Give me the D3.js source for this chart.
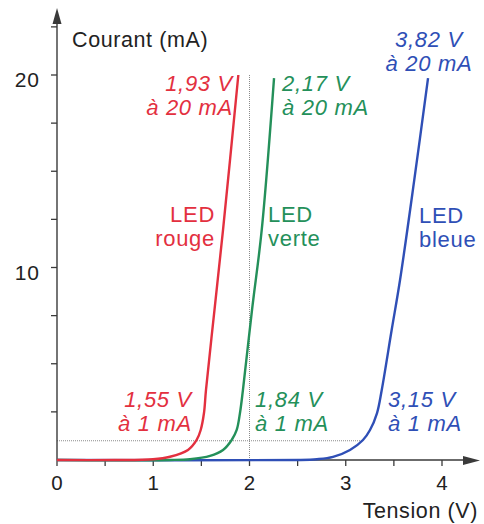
<!DOCTYPE html>
<html>
<head>
<meta charset="utf-8">
<script src="https://cdn.jsdelivr.net/npm/d3@7"></script>
<style>
  html, body { margin: 0; padding: 0; background: #fff; }
  svg { display: block; font-family: "Liberation Sans", Arial, sans-serif; }
</style>
</head>
<body>
<div id="canvas"></div>
<script>
// data (tension in V, current in mA)
var redV   = [0, 0.6, 0.997, 1.174, 1.361, 1.451, 1.493, 1.527, 1.548, 1.636, 1.725, 1.884];
var redI   = [0, 0, 0.04, 0.17, 0.52, 1.04, 1.56, 2.44, 3.64, 7.79, 11.95, 20];
var greenV = [0, 1.17, 1.382, 1.59, 1.725, 1.815, 1.867, 1.901, 1.932, 2.026, 2.127, 2.255];
var greenI = [0, 0, 0.04, 0.21, 0.52, 1.04, 1.56, 2.44, 3.64, 7.79, 11.95, 19.84];
var blueV  = [0, 2.52, 2.70, 2.868, 3.044, 3.179, 3.252, 3.325, 3.374, 3.477, 3.564, 3.712, 3.855];
var blueI  = [0, 0, 0.04, 0.16, 0.52, 1.04, 1.56, 2.44, 3.64, 6.75, 9.35, 14.55, 19.84];

var xTicks = [0, 0.5, 1, 1.5, 2, 2.5, 3, 3.5, 4];
var xLabels = [0, 1, 2, 3, 4];
var yTicks = [2.5, 5, 7.5, 10, 12.5, 15, 17.5, 20, 22.5];
var yLabels = [10, 20];

var colors = { rouge: "#e3303f", verte: "#24905a", bleue: "#2f4fb6" };

var width = 484, height = 524;

var x = d3.scaleLinear().domain([0, 4]).range([57, 442]);
var y = d3.scaleLinear().domain([0, 20]).range([460, 75]);

var svg = d3.select("#canvas").append("svg")
    .attr("width", width)
    .attr("height", height);

function zip(vs, is) {
  return vs.map(function (v, i) { return { v: v, i: is[i] }; });
}

// dotted guide lines
svg.append("line")
    .attr("x1", x(0)).attr("x2", x(3.15))
    .attr("y1", y(1)).attr("y2", y(1))
    .attr("stroke", "#8a8a8a").attr("stroke-width", 1)
    .attr("stroke-dasharray", "1,1");
svg.append("line")
    .attr("x1", x(2)).attr("x2", x(2))
    .attr("y1", y(20)).attr("y2", y(0))
    .attr("stroke", "#8a8a8a").attr("stroke-width", 1)
    .attr("stroke-dasharray", "1,1");

// axes
var axisColor = "#3a3a3a";
svg.append("line")
    .attr("x1", x(0)).attr("x2", 466)
    .attr("y1", y(0)).attr("y2", y(0))
    .attr("stroke", axisColor).attr("stroke-width", 1.4);
svg.append("line")
    .attr("x1", x(0)).attr("x2", x(0))
    .attr("y1", y(0)).attr("y2", 20)
    .attr("stroke", axisColor).attr("stroke-width", 1.4);
svg.append("path")
    .attr("d", "M480,460.5 L463,456 L463,465 Z")
    .attr("fill", axisColor);
svg.append("path")
    .attr("d", "M57,8 L52.5,24 L61.5,24 Z")
    .attr("fill", axisColor);

svg.selectAll(".xt").data(xTicks).enter().append("line")
    .attr("x1", function (d) { return x(d); })
    .attr("x2", function (d) { return x(d); })
    .attr("y1", y(0)).attr("y2", y(0) + 6)
    .attr("stroke", axisColor).attr("stroke-width", 1.3);
svg.selectAll(".yt").data(yTicks).enter().append("line")
    .attr("x1", x(0) - 6).attr("x2", x(0))
    .attr("y1", function (d) { return y(d); })
    .attr("y2", function (d) { return y(d); })
    .attr("stroke", axisColor).attr("stroke-width", 1.3);

svg.selectAll(".xl").data(xLabels).enter().append("text")
    .attr("x", function (d) { return x(d); })
    .attr("y", 490)
    .attr("text-anchor", "middle")
    .attr("font-size", 20.5)
    .attr("fill", "#222")
    .text(function (d) { return d; });
svg.selectAll(".yl").data(yLabels).enter().append("text")
    .attr("x", 40)
    .attr("y", function (d) { return y(d) + 12; })
    .attr("text-anchor", "end")
    .attr("font-size", 21)
    .attr("letter-spacing", 1)
    .attr("fill", "#222")
    .text(function (d) { return d; });

svg.append("text").attr("x", 72).attr("y", 47)
    .attr("font-size", 21.5).attr("letter-spacing", 0.6).attr("fill", "#222")
    .text("Courant (mA)");
svg.append("text").attr("x", 478).attr("y", 518)
    .attr("text-anchor", "end")
    .attr("font-size", 21.5).attr("letter-spacing", 0.6).attr("fill", "#222")
    .text("Tension (V)");

// curves, blue under green under red
var line = d3.line()
    .x(function (d) { return x(d.v); })
    .y(function (d) { return y(d.i); })
    .curve(d3.curveCatmullRom.alpha(0.5));

[[blueV, blueI, colors.bleue], [greenV, greenI, colors.verte], [redV, redI, colors.rouge]]
  .forEach(function (s) {
    svg.append("path")
      .datum(zip(s[0], s[1]))
      .attr("d", line)
      .attr("fill", "none")
      .attr("stroke", s[2])
      .attr("stroke-width", 2.4)
      .attr("stroke-linejoin", "round");
  });

// annotations
function label(lines, px, py, anchor, color, italic) {
  var t = svg.append("text")
      .attr("text-anchor", anchor)
      .attr("font-size", 22)
      .attr("letter-spacing", 0.7)
      .attr("fill", color)
      .attr("font-style", italic ? "italic" : "normal");
  lines.forEach(function (s, k) {
    t.append("tspan").attr("x", px).attr("y", py + k * 24).text(s);
  });
}

label(["1,93 V", "à 20 mA"], 233, 91, "end", colors.rouge, true);
label(["2,17 V", "à 20 mA"], 282, 91, "start", colors.verte, true);
label(["3,82 V", "à 20 mA"], 429, 47, "middle", colors.bleue, true);

label(["LED", "rouge"], 215, 222, "end", colors.rouge, false);
label(["LED", "verte"], 268, 222, "start", colors.verte, false);
label(["LED", "bleue"], 419, 223, "start", colors.bleue, false);

label(["1,55 V", "à 1 mA"], 192, 407, "end", colors.rouge, true);
label(["1,84 V", "à 1 mA"], 255, 407, "start", colors.verte, true);
label(["3,15 V", "à 1 mA"], 388, 407, "start", colors.bleue, true);
</script>
</body>
</html>
